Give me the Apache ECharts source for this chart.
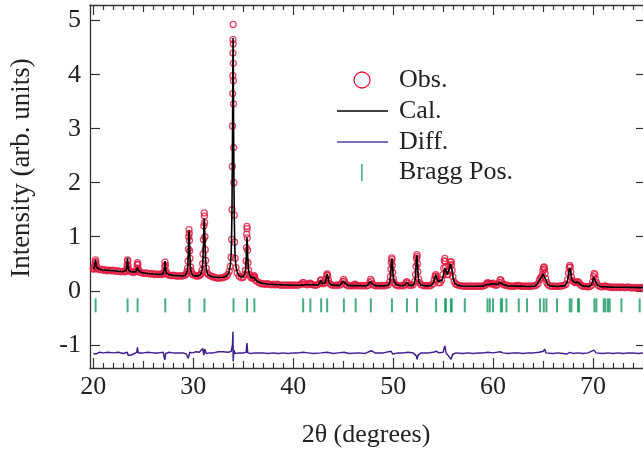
<!DOCTYPE html>
<html>
<head>
<meta charset="utf-8">
<script src="https://cdn.jsdelivr.net/npm/echarts@6/dist/echarts.min.js"></script>
<style>
  html, body { margin: 0; padding: 0; background: #fff; }
  #chart { width: 643px; height: 452px; }
</style>
</head>
<body>
<div id="chart"></div>
<script>
// Axis tick values
const xTicks = [20, 30, 40, 50, 60, 70];
const xMidTicks = [25, 35, 45, 55, 65, 75];
const yTicks = [-1, 0, 1, 2, 3, 4, 5];

// Observed pattern: [2theta, intensity]
const obs = [
[20.0,.41],[20.05,.40],[20.1,.43],[20.14,.46],[20.18,.52],[20.22,.57],[20.26,.54],[20.3,.47],[20.35,.43],[20.4,.41],[20.6,.39],[20.8,.40],
[21.0,.38],[21.2,.39],[21.4,.37],[21.6,.38],[21.8,.37],[22.0,.38],[22.2,.36],[22.4,.37],[22.6,.36],[22.8,.35],
[23.0,.36],[23.2,.35],[23.3,.37],[23.35,.41],[23.38,.48],[23.42,.57],[23.45,.55],[23.48,.47],[23.52,.40],[23.6,.37],[23.8,.35],[24.0,.34],[24.2,.35],
[24.3,.36],[24.36,.42],[24.4,.49],[24.43,.52],[24.46,.48],[24.5,.40],[24.56,.37],[24.7,.34],[24.9,.33],[25.1,.32],[25.3,.33],[25.5,.32],[25.7,.31],[25.9,.32],
[26.1,.30],[26.3,.31],[26.5,.30],[26.7,.31],[26.9,.30],
[27.05,.32],[27.1,.36],[27.14,.45],[27.18,.53],[27.22,.47],[27.26,.37],[27.32,.32],[27.45,.30],[27.6,.29],[27.8,.28],
[28.0,.29],[28.2,.28],[28.4,.27],[28.6,.28],[28.8,.27],[29.0,.28],[29.2,.29],
[29.3,.31],[29.38,.36],[29.43,.42],[29.48,.55],[29.52,.77],[29.55,1.0],[29.58,1.13],[29.6,1.06],[29.62,.93],[29.65,.74],[29.68,.60],[29.73,.44],[29.78,.37],[29.9,.31],
[30.0,.30],[30.2,.28],[30.4,.27],[30.6,.28],[30.7,.29],[30.8,.32],[30.88,.38],[30.94,.50],[30.98,.68],
[31.02,.95],[31.06,1.2],[31.1,1.44],[31.12,1.38],[31.14,1.26],[31.17,1.0],[31.2,.76],[31.24,.56],[31.3,.42],[31.4,.33],[31.5,.30],[31.7,.28],[31.9,.26],
[32.1,.25],[32.3,.24],[32.5,.23],[32.7,.24],[32.9,.24],
[33.1,.25],[33.3,.27],[33.45,.30],[33.6,.36],[33.7,.45],[33.78,.62],[33.84,.95],[33.88,1.5],[33.91,2.3],[33.93,3.05],[33.95,3.65],[33.96,3.98],[33.97,4.4],[33.98,4.65],[33.99,4.93],
[34.0,4.57],[34.01,4.21],[34.02,3.89],[34.03,3.46],[34.05,2.65],[34.07,2.0],[34.1,1.4],[34.14,.90],[34.2,.60],[34.28,.43],[34.4,.33],[34.6,.27],[34.8,.24],
[35.0,.25],[35.15,.30],[35.22,.38],[35.28,.55],[35.32,.80],[35.35,1.05],[35.37,1.19],[35.39,1.15],[35.41,.98],[35.44,.75],[35.48,.52],[35.54,.38],[35.62,.30],[35.75,.25],[35.9,.23],
[36.0,.24],[36.06,.27],[36.1,.28],[36.14,.25],[36.22,.20],[36.4,.17],[36.6,.15],[36.8,.13],
[37.0,.13],[37.2,.12],[37.4,.13],[37.6,.12],[37.8,.11],[38.0,.12],[38.2,.11],[38.4,.12],[38.6,.11],[38.8,.10],
[39.0,.11],[39.2,.10],[39.4,.11],[39.6,.10],[39.8,.11],[40.0,.10],[40.2,.11],[40.4,.10],[40.6,.11],[40.8,.12],
[40.95,.15],[41.05,.15],[41.2,.12],[41.4,.11],[41.6,.13],[41.7,.14],[41.8,.12],[42.0,.11],[42.2,.10],[42.4,.11],[42.6,.13],[42.72,.19],[42.8,.20],[42.9,.15],
[43.0,.13],[43.15,.15],[43.28,.22],[43.36,.29],[43.4,.31],[43.45,.28],[43.52,.20],[43.62,.14],[43.8,.11],
[44.0,.10],[44.2,.10],[44.4,.11],[44.6,.10],[44.8,.12],[44.95,.17],[45.05,.21],[45.12,.18],[45.25,.12],[45.4,.10],[45.6,.09],[45.8,.10],
[46.0,.09],[46.1,.11],[46.2,.12],[46.3,.10],[46.5,.09],[46.7,.10],[46.9,.09],[47.1,.10],[47.3,.09],[47.5,.10],[47.65,.15],[47.75,.21],[47.82,.18],[47.95,.12],
[48.1,.10],[48.3,.09],[48.5,.10],[48.7,.09],[48.9,.10],[49.1,.09],[49.3,.10],[49.5,.11],[49.65,.16],[49.73,.26],[49.78,.40],[49.82,.53],[49.86,.61],[49.89,.58],[49.92,.47],[49.96,.34],
[50.02,.22],[50.1,.15],[50.25,.11],[50.4,.10],[50.6,.09],[50.8,.10],[51.0,.09],[51.2,.11],[51.3,.15],[51.37,.17],[51.45,.14],[51.6,.10],[51.8,.10],
[52.0,.11],[52.15,.17],[52.24,.30],[52.29,.45],[52.33,.60],[52.37,.67],[52.4,.63],[52.44,.50],[52.48,.35],[52.55,.22],[52.65,.15],[52.8,.11],
[53.0,.10],[53.2,.09],[53.4,.10],[53.6,.09],[53.8,.10],[54.0,.13],[54.12,.20],[54.2,.27],[54.26,.30],[54.32,.27],[54.4,.20],[54.55,.15],[54.7,.15],[54.85,.20],[54.98,.30],
[55.06,.42],[55.12,.55],[55.17,.60],[55.2,.55],[55.25,.44],[55.32,.35],[55.4,.30],[55.5,.30],[55.6,.38],[55.68,.48],[55.74,.53],[55.8,.54],[55.85,.48],[55.9,.38],[55.98,.26],
[56.1,.17],[56.25,.13],[56.4,.11],[56.6,.10],[56.8,.09],[57.0,.09],[57.2,.08],[57.4,.09],[57.6,.08],[57.8,.09],
[58.0,.08],[58.2,.09],[58.4,.08],[58.6,.09],[58.8,.08],[59.0,.09],[59.2,.10],[59.35,.13],[59.45,.15],[59.55,.14],[59.7,.13],[59.85,.13],
[60.0,.14],[60.1,.12],[60.25,.10],[60.45,.11],[60.6,.15],[60.7,.20],[60.77,.20],[60.85,.16],[61.0,.12],[61.2,.10],[61.35,.11],[61.5,.09],[61.7,.09],[61.9,.08],
[62.1,.09],[62.3,.09],[62.45,.10],[62.55,.10],[62.7,.09],[62.9,.08],[63.1,.09],[63.3,.08],[63.5,.09],[63.7,.08],[63.9,.09],
[64.1,.09],[64.3,.10],[64.5,.13],[64.65,.20],[64.75,.24],[64.85,.25],[64.93,.30],[64.99,.38],[65.05,.43],[65.1,.44],[65.15,.40],[65.2,.32],[65.28,.22],[65.38,.15],[65.5,.11],[65.7,.09],[65.9,.08],
[66.1,.09],[66.3,.08],[66.5,.08],[66.7,.09],[66.9,.09],[67.1,.10],[67.3,.12],[67.45,.20],[67.55,.33],[67.62,.43],[67.67,.47],[67.72,.44],[67.78,.35],[67.85,.25],[67.95,.19],
[68.1,.16],[68.25,.15],[68.4,.16],[68.5,.17],[68.6,.15],[68.75,.11],[68.9,.09],[69.1,.08],[69.3,.08],[69.5,.07],[69.7,.08],[69.85,.10],[69.95,.16],
[70.05,.26],[70.12,.32],[70.18,.30],[70.25,.22],[70.35,.15],[70.5,.10],[70.7,.08],[70.9,.07],[71.1,.08],[71.2,.09],[71.3,.08],[71.5,.07],[71.7,.07],[71.9,.06],
[72.1,.07],[72.3,.06],[72.5,.07],[72.7,.06],[72.9,.07],[73.1,.06],[73.3,.06],[73.5,.07],[73.7,.06],[73.9,.05],
[74.1,.06],[74.3,.05],[74.5,.06],[74.7,.05],[74.9,.06],[75.0,.05]
];

// Calculated profile: [2theta, intensity]
const cal = [
[20.0,.40],[20.1,.42],[20.15,.46],[20.19,.53],[20.22,.57],[20.25,.53],[20.29,.46],[20.34,.43],[20.45,.41],[20.7,.395],[21.0,.385],[21.5,.378],[22.0,.37],[22.5,.362],
[23.0,.355],[23.2,.36],[23.3,.38],[23.35,.43],[23.39,.53],[23.42,.60],[23.45,.53],[23.49,.43],[23.54,.38],[23.62,.36],[23.8,.35],[24.0,.345],
[24.25,.35],[24.35,.38],[24.42,.43],[24.49,.38],[24.6,.35],[24.8,.335],[25.0,.33],[25.5,.32],[26.0,.31],[26.5,.303],
[26.95,.305],[27.06,.33],[27.11,.39],[27.15,.49],[27.18,.55],[27.21,.49],[27.25,.39],[27.3,.33],[27.42,.305],[27.6,.295],[28.0,.285],[28.5,.278],[29.0,.275],
[29.23,.29],[29.38,.35],[29.46,.47],[29.51,.70],[29.55,1.0],[29.58,1.12],[29.61,1.0],[29.65,.70],[29.7,.47],[29.78,.35],[29.93,.29],[30.2,.275],[30.5,.275],
[30.75,.30],[30.9,.40],[30.98,.62],[31.03,.95],[31.07,1.2],[31.1,1.34],[31.13,1.2],[31.17,.95],[31.22,.62],[31.3,.40],[31.45,.30],[31.7,.27],[32.0,.255],[32.5,.245],
[33.0,.25],[33.3,.27],[33.55,.33],[33.7,.45],[33.8,.70],[33.87,1.4],[33.92,2.6],[33.96,4.0],[33.985,4.68],[34.01,4.0],[34.05,2.6],[34.1,1.4],[34.17,.70],[34.27,.45],[34.42,.33],[34.7,.26],
[35.0,.26],[35.15,.31],[35.25,.42],[35.31,.62],[35.35,.85],[35.38,.99],[35.41,.85],[35.45,.62],[35.51,.42],[35.62,.30],[35.8,.24],[35.95,.24],
[36.03,.25],[36.1,.27],[36.17,.24],[36.3,.19],[36.6,.155],[37.0,.135],[37.5,.125],[38.0,.118],[39.0,.108],[40.0,.103],[40.8,.105],
[41.0,.14],[41.2,.11],[41.55,.11],[41.7,.13],[41.85,.11],[42.5,.105],[42.65,.13],[42.78,.19],[42.92,.13],[43.15,.14],[43.28,.20],[43.35,.27],[43.4,.31],[43.45,.27],[43.52,.20],[43.65,.13],[43.9,.105],
[44.7,.10],[44.9,.13],[45.0,.18],[45.07,.20],[45.14,.18],[45.25,.13],[45.5,.10],[46.0,.095],[46.2,.11],[46.4,.095],[47.4,.092],[47.6,.12],[47.7,.17],[47.77,.20],[47.84,.17],[47.95,.12],[48.2,.095],
[49.0,.09],[49.5,.10],[49.66,.16],[49.74,.29],[49.8,.46],[49.84,.56],[49.87,.60],[49.9,.56],[49.94,.46],[50.0,.29],[50.1,.17],[50.3,.115],[50.8,.092],
[51.15,.10],[51.28,.13],[51.37,.16],[51.46,.13],[51.6,.10],[52.0,.10],[52.15,.15],[52.23,.26],[52.29,.45],[52.33,.60],[52.37,.66],[52.41,.60],[52.45,.45],[52.51,.26],[52.6,.15],[52.8,.105],
[53.3,.09],[53.8,.10],[54.05,.15],[54.17,.24],[54.27,.30],[54.37,.24],[54.5,.17],[54.7,.16],[54.9,.20],[55.02,.28],[55.1,.37],[55.2,.42],[55.3,.35],[55.42,.30],
[55.55,.32],[55.65,.42],[55.72,.50],[55.78,.53],[55.84,.50],[55.92,.36],[56.02,.22],[56.2,.13],[56.5,.10],[57.0,.088],[58.0,.083],[59.0,.085],
[59.3,.11],[59.5,.14],[59.7,.12],[59.85,.12],[60.0,.13],[60.2,.11],[60.5,.115],[60.65,.16],[60.75,.19],[60.85,.16],[61.05,.11],[61.5,.09],[62.3,.085],[62.5,.095],[62.7,.085],[63.5,.08],
[64.2,.085],[64.45,.13],[64.65,.20],[64.8,.24],[64.92,.26],[65.02,.31],[65.1,.33],[65.18,.30],[65.3,.19],[65.45,.12],[65.7,.09],[66.5,.08],
[67.2,.095],[67.4,.15],[67.52,.26],[67.6,.37],[67.67,.42],[67.74,.37],[67.82,.26],[67.95,.18],[68.2,.15],[68.5,.16],[68.7,.12],[69.0,.085],[69.6,.08],
[69.85,.11],[69.98,.19],[70.06,.25],[70.12,.28],[70.18,.25],[70.28,.17],[70.45,.10],[70.8,.075],[71.1,.075],[71.2,.085],[71.35,.072],[72.0,.068],[73.0,.065],[74.0,.062],[75.0,.058]
];

// Difference curve (offset below the pattern): [2theta, intensity]
const diff = [
[20.0,-1.16],[20.2,-1.13],[20.3,-1.17],[20.6,-1.14],[21.0,-1.15],[21.5,-1.14],[22.0,-1.15],[22.5,-1.14],[23.0,-1.16],[23.4,-1.14],[23.5,-1.20],[23.8,-1.19],[24.0,-1.18],
[24.35,-1.14],[24.42,-1.05],[24.5,-1.15],[25.0,-1.15],[25.5,-1.14],[26.0,-1.15],[26.5,-1.15],[27.0,-1.14],[27.15,-1.28],[27.25,-1.16],[27.6,-1.14],[28.0,-1.15],[28.5,-1.15],
[29.0,-1.15],[29.3,-1.17],[29.5,-1.25],[29.65,-1.14],[29.9,-1.15],[30.3,-1.13],[30.6,-1.14],[30.95,-1.07],[31.05,-1.19],[31.15,-1.08],[31.3,-1.16],[31.7,-1.15],
[32.0,-1.15],[32.5,-1.13],[33.0,-1.13],[33.5,-1.14],[33.8,-1.12],[33.93,-1.0],[33.97,-0.76],[34.0,-1.31],[34.05,-1.10],[34.2,-1.16],[34.6,-1.15],
[35.0,-1.15],[35.3,-1.14],[35.37,-0.97],[35.45,-1.15],[35.8,-1.16],[36.1,-1.15],[37.0,-1.15],[37.5,-1.16],[38.0,-1.15],[38.5,-1.16],[39.0,-1.15],[39.5,-1.16],
[40.0,-1.15],[40.5,-1.15],[41.0,-1.14],[41.5,-1.15],[41.65,-1.13],[42.0,-1.16],[42.8,-1.15],[43.4,-1.14],[44.0,-1.16],[44.5,-1.15],[45.1,-1.14],[45.6,-1.16],
[46.5,-1.15],[47.2,-1.16],[47.8,-1.11],[48.2,-1.15],[49.0,-1.15],[49.8,-1.12],[49.95,-1.17],[50.5,-1.15],[51.0,-1.15],[51.5,-1.14],[52.0,-1.15],[52.3,-1.20],[52.4,-1.27],[52.5,-1.19],
[52.8,-1.15],[53.5,-1.15],[54.0,-1.14],[54.3,-1.12],[54.6,-1.15],[55.0,-1.14],[55.17,-1.02],[55.3,-1.15],[55.5,-1.13],[55.8,-1.27],[55.95,-1.18],[56.3,-1.15],
[57.0,-1.16],[57.5,-1.15],[58.0,-1.16],[58.5,-1.15],[59.0,-1.15],[59.5,-1.14],[60.0,-1.15],[60.7,-1.13],[61.0,-1.15],[61.5,-1.16],[62.0,-1.15],[62.5,-1.15],
[63.0,-1.16],[63.5,-1.15],[64.0,-1.15],[64.6,-1.14],[65.05,-1.12],[65.15,-1.08],[65.3,-1.15],[66.0,-1.16],[66.5,-1.15],[67.0,-1.16],[67.4,-1.17],[67.7,-1.14],
[68.0,-1.16],[68.5,-1.15],[69.0,-1.16],[69.5,-1.15],[70.1,-1.10],[70.3,-1.15],[71.0,-1.16],[71.5,-1.15],[72.0,-1.16],[72.5,-1.15],[73.0,-1.16],[73.5,-1.15],
[74.0,-1.15],[74.5,-1.16],[75.0,-1.15]
];

// Bragg reflection positions (2theta)
const braggPos = [
20.23, 23.43, 24.43, 27.2, 29.62, 31.12, 34.03, 35.39, 36.12,
41.0, 41.72, 42.8, 43.4, 45.07, 46.25, 47.77, 49.88, 51.38, 52.38,
54.3, 55.2, 55.28, 55.78, 55.86, 57.17, 59.44, 59.67, 60.0, 60.77, 60.9,
61.34, 62.57, 63.4, 64.7, 65.07, 65.34, 66.4, 67.67, 67.84, 68.5, 68.6,
70.14, 70.34, 71.07, 71.24, 71.5, 71.67, 72.84, 74.67
];
const braggLevel = -0.27;

const X_MIN = 19.67, X_MAX = 75.0;
const Y_MIN = -1.43, Y_MAX = 5.29;

const FONT = '"Liberation Serif", "Times New Roman", serif';
const INK = '#222';
const AXIS = '#333';
const OBS_RED = '#e0173d';
const DIFF_PURPLE = '#3f1f8f';
const BRAGG_GREEN = '#17985f';

// Minor ticks every degree
const xMinorTicks = [];
for (let d = 20; d <= 75; d++) {
  if (!xTicks.includes(d) && !xMidTicks.includes(d)) xMinorTicks.push(d);
}

function xAxisLayer(position, values, len, withLine, withLabels) {
  return {
    type: 'value', position, min: X_MIN, max: X_MAX, gridIndex: 0,
    axisLine: { show: withLine, onZero: false, lineStyle: { color: AXIS, width: 1.3 } },
    axisTick: { show: true, inside: true, length: len, customValues: values,
                lineStyle: { color: AXIS, width: 1.2 } },
    axisLabel: withLabels
      ? { show: true, customValues: xTicks, margin: 6, fontFamily: FONT, fontSize: 26, color: INK }
      : { show: false },
    splitLine: { show: false }
  };
}

const chart = echarts.init(document.getElementById('chart'), null, { renderer: 'canvas' });

chart.setOption({
  animation: false,
  backgroundColor: '#fff',
  grid: { left: 90, right: 0, top: 5, bottom: 84, containLabel: false },
  xAxis: [
    xAxisLayer('bottom', xTicks, 10, true, true),
    xAxisLayer('bottom', xMidTicks, 7, false, false),
    xAxisLayer('bottom', xMinorTicks, 5, false, false),
    xAxisLayer('top', xTicks, 10, true, false),
    xAxisLayer('top', xMidTicks, 7, false, false),
    xAxisLayer('top', xMinorTicks, 5, false, false)
  ],
  yAxis: [
    {
      type: 'value', position: 'left', min: Y_MIN, max: Y_MAX,
      axisLine: { show: true, onZero: false, lineStyle: { color: AXIS, width: 1.3 } },
      axisTick: { show: true, inside: true, length: 10, customValues: yTicks,
                  lineStyle: { color: AXIS, width: 1.2 } },
      axisLabel: { show: true, customValues: yTicks, margin: 9, fontFamily: FONT, fontSize: 26, color: INK },
      splitLine: { show: false }
    },
    {
      type: 'value', position: 'right', min: Y_MIN, max: Y_MAX,
      axisLine: { show: false },
      axisTick: { show: true, inside: true, length: 7, customValues: yTicks,
                  lineStyle: { color: AXIS, width: 1.2 } },
      axisLabel: { show: false },
      splitLine: { show: false }
    }
  ],
  series: [
    {
      name: 'Obs.', type: 'scatter', data: obs, xAxisIndex: 0, yAxisIndex: 0,
      symbol: 'circle', symbolSize: 6,
      itemStyle: { color: 'rgba(0,0,0,0)', borderColor: OBS_RED, borderWidth: 1.3 },
      z: 2, silent: true
    },
    {
      name: 'Cal.', type: 'line', data: cal, xAxisIndex: 0, yAxisIndex: 0,
      showSymbol: false, symbol: 'none',
      lineStyle: { color: '#000', width: 1.6 }, z: 3, silent: true
    },
    {
      name: 'Diff.', type: 'line', data: diff, xAxisIndex: 0, yAxisIndex: 0,
      showSymbol: false, symbol: 'none',
      lineStyle: { color: DIFF_PURPLE, width: 1.5 }, z: 3, silent: true
    },
    {
      name: 'Bragg Pos.', type: 'scatter', xAxisIndex: 0, yAxisIndex: 0,
      data: braggPos.map(p => [p, braggLevel]),
      symbol: 'rect', symbolSize: [2, 14],
      itemStyle: { color: BRAGG_GREEN }, z: 3, silent: true
    }
  ],
  graphic: [
    // legend
    { type: 'circle', shape: { cx: 362, cy: 80, r: 8 },
      style: { fill: 'none', stroke: OBS_RED, lineWidth: 1.3 } },
    { type: 'text', x: 399, y: 80,
      style: { text: 'Obs.', font: '26px ' + FONT, fill: INK, verticalAlign: 'middle' } },
    { type: 'line', shape: { x1: 337, y1: 111, x2: 388, y2: 111 },
      style: { stroke: '#000', lineWidth: 1.4 } },
    { type: 'text', x: 399, y: 111,
      style: { text: 'Cal.', font: '26px ' + FONT, fill: INK, verticalAlign: 'middle' } },
    { type: 'line', shape: { x1: 337, y1: 142, x2: 388, y2: 142 },
      style: { stroke: '#5a3da8', lineWidth: 1.4 } },
    { type: 'text', x: 399, y: 142,
      style: { text: 'Diff.', font: '26px ' + FONT, fill: INK, verticalAlign: 'middle' } },
    { type: 'rect', shape: { x: 361, y: 164, width: 1.6, height: 17 },
      style: { fill: '#3fb383' } },
    { type: 'text', x: 399, y: 172,
      style: { text: 'Bragg Pos.', font: '26px ' + FONT, fill: INK, verticalAlign: 'middle' } },
    // axis titles
    { type: 'text', x: 22, y: 168, rotation: Math.PI / 2,
      style: { text: 'Intensity (arb. units)', font: '27px ' + FONT, fill: INK,
               align: 'center', verticalAlign: 'middle' } },
    { type: 'text', x: 366, y: 435,
      style: { text: '2θ (degrees)', font: '26px ' + FONT, fill: INK,
               align: 'center', verticalAlign: 'middle' } }
  ]
});
</script>
</body>
</html>
